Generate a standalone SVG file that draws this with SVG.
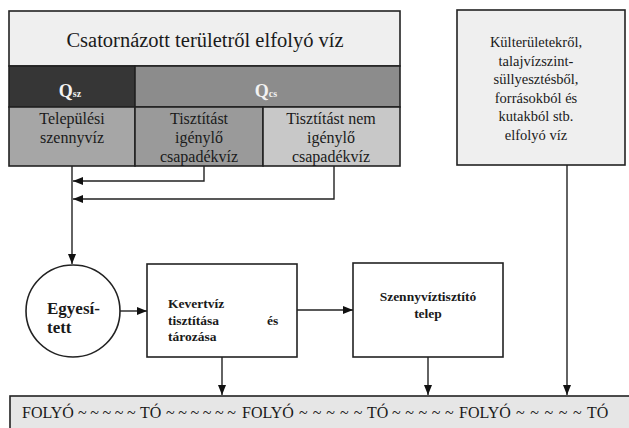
<svg xmlns="http://www.w3.org/2000/svg" width="629" height="428" viewBox="0 0 629 428">
<style>
text{fill:#1a1a1a}
.c{text-anchor:middle}
.b{font-weight:bold}
.bx{stroke:#222;stroke-width:1.6}
.ln{fill:none;stroke:#222;stroke-width:1.4}
</style>
<defs>
<marker id="ah" markerWidth="10" markerHeight="8" refX="10" refY="4" orient="auto" markerUnits="userSpaceOnUse">
<path d="M0,0 L10,4 L0,8 Z" fill="#111"/>
</marker>
</defs>
<rect width="629" height="428" fill="#fff"/>
<g font-family="Liberation Serif, Times New Roman, serif">
<g id="source">
<rect x="9" y="11" width="391" height="55" fill="#efefef" class="bx"/>
<text x="205" y="47" class="c" font-size="20.5">Csatornázott területről elfolyó víz</text>
<rect x="9" y="66" width="126" height="41" fill="#363636" class="bx"/>
<rect x="135" y="66" width="265" height="41" fill="#8c8c8c" class="bx"/>
<text x="70" y="97" class="c b" font-size="18" style="fill:#f2f2f2">Q<tspan font-size="10">sz</tspan></text>
<text x="266" y="97" class="c b" font-size="18" style="fill:#f2f2f2">Q<tspan font-size="10">cs</tspan></text>
<rect x="9" y="107" width="126" height="59" fill="#a6a6a6" class="bx"/>
<rect x="135" y="107" width="128" height="59" fill="#9a9a9a" class="bx"/>
<rect x="263" y="107" width="137" height="59" fill="#c8c8c8" class="bx"/>
<text x="72" y="124" class="c" font-size="16">Települési</text>
<text x="72" y="143" class="c" font-size="16">szennyvíz</text>
<text x="199" y="124" class="c" font-size="16">Tisztítást</text>
<text x="199" y="143" class="c" font-size="16">igénylő</text>
<text x="199" y="162" class="c" font-size="16">csapadékvíz</text>
<text x="331" y="124" class="c" font-size="16">Tisztítást nem</text>
<text x="331" y="143" class="c" font-size="16">igénylő</text>
<text x="331" y="162" class="c" font-size="16">csapadékvíz</text>
</g>

<g id="outer">
<rect x="457" y="10" width="168" height="155" fill="#efefef" class="bx"/>
<text class="c" font-size="14.5" x="536" y="47">Külterületekről,</text>
<text class="c" font-size="14.5" x="536" y="65.5">talajvízszint-</text>
<text class="c" font-size="14.5" x="536" y="84">süllyesztésből,</text>
<text class="c" font-size="14.5" x="536" y="102.5">forrásokból és</text>
<text class="c" font-size="14.5" x="536" y="121">kutakból stb.</text>
<text class="c" font-size="14.5" x="536" y="139.5">elfolyó víz</text>
</g>

<g id="egyesitett">
<ellipse cx="73" cy="311" rx="47" ry="46" fill="#fff" class="bx" stroke-width="2"/>
<text x="47" y="314" class="b" font-size="17">Egyesí-</text>
<text x="47" y="333" class="b" font-size="17">tett</text>
</g>

<g id="kevert">
<rect x="147" y="264" width="150" height="93" fill="#fff" class="bx" stroke-width="2"/>
<text x="168" y="308" class="b" font-size="13.5">Kevertvíz</text>
<text x="168" y="325" class="b" font-size="13.5">tisztítása</text>
<text x="267" y="325" class="b" font-size="13.5">és</text>
<text x="168" y="341" class="b" font-size="13.5">tározása</text>
</g>

<g id="telep">
<rect x="353" y="263" width="150" height="94" fill="#fff" class="bx" stroke-width="2"/>
<text x="428" y="301" class="c b" font-size="13.5">Szennyvíztisztító</text>
<text x="428" y="318" class="c b" font-size="13.5">telep</text>
</g>

<g id="folyo">
<rect x="10" y="396" width="625" height="40" fill="#e6e6e6" class="bx"/>
<text y="418" font-size="16"><tspan x="22">FOLYÓ</tspan><tspan x="78" style="letter-spacing:3.6px">~~~~~</tspan><tspan x="140">TÓ</tspan><tspan x="166" style="letter-spacing:3.6px">~~~~~~</tspan><tspan x="242">FOLYÓ</tspan><tspan x="299" style="letter-spacing:5px">~~~~~</tspan><tspan x="367">TÓ</tspan><tspan x="392" style="letter-spacing:4.6px">~~~~~</tspan><tspan x="459">FOLYÓ</tspan><tspan x="516" style="letter-spacing:5.6px">~~~~~</tspan><tspan x="587">TÓ</tspan></text>
</g>
</g>
<g id="connectors">
<path class="ln" d="M72,166 V264" marker-end="url(#ah)"/>
<path class="ln" d="M204,166 V181 H73" marker-end="url(#ah)"/>
<path class="ln" d="M334,166 V199 H73" marker-end="url(#ah)"/>
<path class="ln" d="M120,311 H147" marker-end="url(#ah)"/>
<path class="ln" d="M297,310 H353" marker-end="url(#ah)"/>
<path class="ln" d="M222,357 V395" marker-end="url(#ah)"/>
<path class="ln" d="M428,357 V395" marker-end="url(#ah)"/>
<path class="ln" d="M567,165 V395" marker-end="url(#ah)"/>
</g>
</svg>
